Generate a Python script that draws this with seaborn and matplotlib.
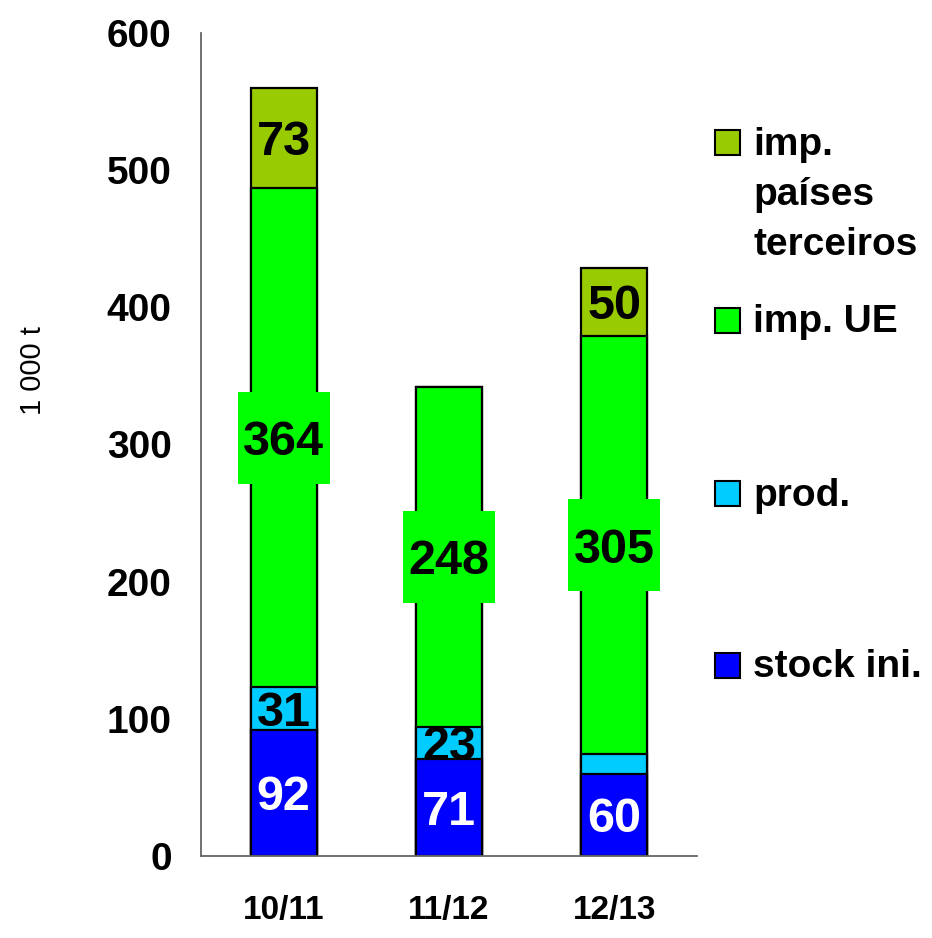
import numpy as np
import pandas as pd
import matplotlib
matplotlib.use("Agg")
import matplotlib.pyplot as plt
import seaborn as sns
from matplotlib.patches import Rectangle

# ---- data ----
categories = ["10/11", "11/12", "12/13"]
stock_ini = [92, 71, 60]
prod = [31, 23, 14]
imp_ue = [364, 248, 305]
imp_terceiros = [73, 0, 50]

series_names = ["stock ini.", "prod.", "imp. UE", "imp.\npaíses\nterceiros"]
series_colors = ["#0000FF", "#00CCFF", "#00FF00", "#99CC00"]
label_colors = ["white", "black", "black", "black"]
# which values carry a printed label
show_label = [
    [True, True, True],
    [True, True, False],
    [True, True, True],
    [True, False, True],
]
y_ticks = [0, 100, 200, 300, 400, 500, 600]

sns.set_style("white")
plt.rcParams["font.family"] = ["Liberation Sans", "DejaVu Sans"]
for key in ["text.color", "axes.labelcolor", "xtick.labelcolor", "ytick.labelcolor"]:
    plt.rcParams[key] = "black"

W, H = 932, 938
fig = plt.figure(figsize=(W / 100, H / 100), dpi=100)
ax_left, ax_right, ax_top, ax_bottom = 201, 697, 33, 856
ax = fig.add_axes([ax_left / W, 1 - ax_bottom / H,
                   (ax_right - ax_left) / W, (ax_bottom - ax_top) / H])

series = [stock_ini, prod, imp_ue, imp_terceiros]
cum = np.cumsum(np.array(series, dtype=float), axis=0)  # shape (4, 3)

# draw cumulative bars from the tallest down so lower stacks overlay
for k in range(len(series) - 1, -1, -1):
    df = pd.DataFrame({"cat": categories, "val": cum[k]})
    sns.barplot(data=df, x="cat", y="val", color=series_colors[k],
                saturation=1, width=0.4, edgecolor="black", linewidth=1.6,
                errorbar=None, ax=ax)

# value labels
for k in range(len(series)):
    for i, cat in enumerate(categories):
        if not show_label[k][i]:
            continue
        bottom = cum[k][i] - series[k][i]
        mid = bottom + series[k][i] / 2
        if k == 2:
            ax.plot([i], [mid], marker="s", markersize=66, color="#00FF00",
                    markeredgewidth=0, linestyle="none", zorder=4)
        ax.text(i, mid, f"{series[k][i]:d}", ha="center", va="center_baseline",
                fontsize=35, fontweight="bold", color=label_colors[k], zorder=5)

ax.set_xlim(-0.5, 2.5)
ax.set_ylim(0, 600)
ax.set_yticks(y_ticks)
ax.set_yticklabels([str(t) for t in y_ticks])
ax.set_xlabel("")
ax.set_ylabel("1 000 t", fontsize=21, fontweight="normal", color="black")
ax.yaxis.set_label_coords((47 - ax_left) / (ax_right - ax_left),
                          (ax_bottom - 371) / (ax_bottom - ax_top))

for s in ["top", "right"]:
    ax.spines[s].set_visible(False)
for s in ["left", "bottom"]:
    ax.spines[s].set_color("#666666")
    ax.spines[s].set_linewidth(1.3)

ax.tick_params(axis="y", direction="in", length=9, width=1.3, color="#666666",
               pad=21, labelsize=28, labelcolor="black")
ax.tick_params(axis="x", length=0, pad=28, labelsize=24, labelcolor="black")
for lab in ax.get_yticklabels() + ax.get_xticklabels():
    lab.set_fontweight("bold")

# legend (manual, top to bottom)
legend_order = [3, 2, 1, 0]
square_centres = [143, 320, 494, 665]
first_baselines = [155, 332, 506, 677]
line_step = 50
for k, yc, yb in zip(legend_order, square_centres, first_baselines):
    fig.add_artist(Rectangle((715 / W, 1 - (yc + 12.5) / H), 25 / W, 25 / H,
                             transform=fig.transFigure, facecolor=series_colors[k],
                             edgecolor="black", linewidth=1.5))
    lines = series_names[k].split("\n")
    for j, line in enumerate(lines):
        fig.text(753 / W, 1 - (yb + j * line_step) / H, line, ha="left",
                 va="baseline", fontsize=28, fontweight="bold", color="black")

fig.savefig("out.png", dpi=100)
